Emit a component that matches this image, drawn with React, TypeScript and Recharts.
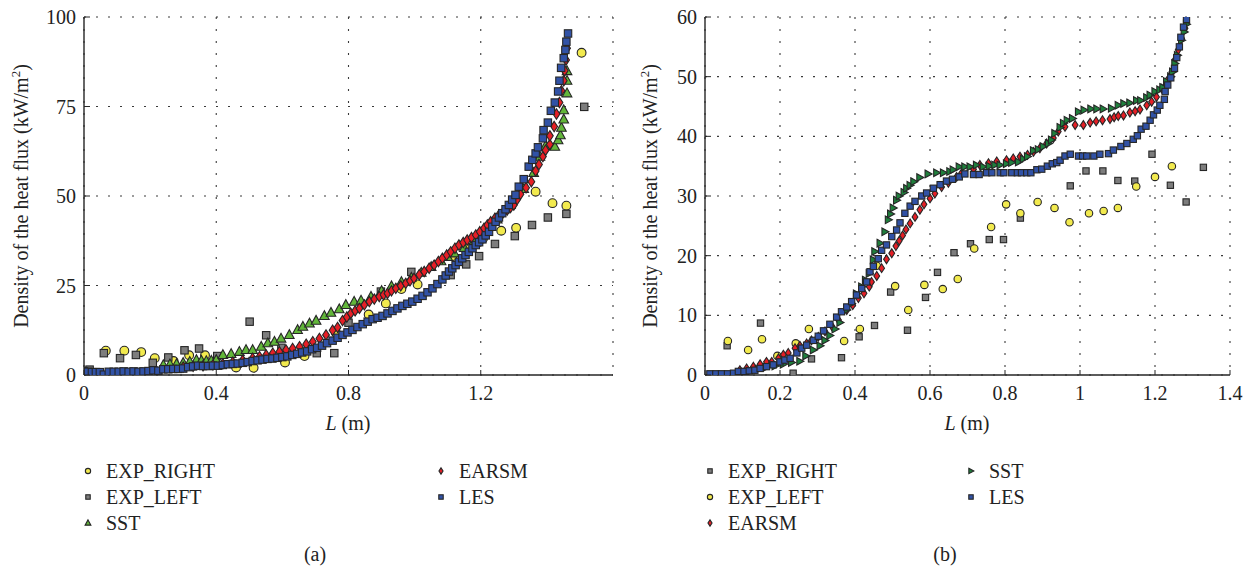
import React from "react";
import { CartesianGrid, Scatter, ScatterChart, XAxis, YAxis } from "recharts";

type Pt = [number, number];

// ---- panel (a) ----
const ticksXA = [0, 0.4, 0.8, 1.2];
const ticksYA = [0, 25, 50, 75, 100];

const aExpRight: Pt[] = [
  [0.005, 1.0], [0.066, 6.8], [0.122, 6.8], [0.173, 6.4], [0.214, 4.7], [0.271, 3.9],
  [0.318, 5.5], [0.366, 5.5], [0.46, 2.1], [0.513, 2.0], [0.608, 3.5], [0.667, 5.3],
  [0.762, 11.8], [0.861, 16.9], [0.913, 20.0], [0.96, 24.0], [1.009, 25.3], [1.114, 33.2],
  [1.159, 35.6], [1.207, 38.1], [1.262, 40.3], [1.307, 41.1], [1.366, 51.2], [1.417, 48.0],
  [1.459, 47.3], [1.505, 90.0],
];

const aExpLeft: Pt[] = [
  [0.017, 1.5], [0.06, 6.1], [0.109, 4.7], [0.157, 5.6], [0.208, 3.4], [0.255, 4.9],
  [0.304, 6.9], [0.348, 7.4], [0.403, 5.3], [0.501, 14.9], [0.551, 11.1], [0.597, 7.6],
  [0.704, 6.1], [0.757, 6.1], [0.8, 14.6], [0.898, 23.3], [0.99, 28.8], [1.109, 27.9],
  [1.156, 30.9], [1.195, 33.2], [1.243, 36.6], [1.303, 38.8], [1.355, 41.9], [1.403, 44.0],
  [1.459, 45.0], [1.513, 74.9],
];

const aSst: Pt[] = [
  [0.24, 2.8], [0.26, 3.0], [0.28, 3.1], [0.3, 3.4], [0.32, 3.7], [0.34, 4.2], [0.355, 4.0],
  [0.37, 3.9], [0.385, 4.0], [0.4, 4.2], [0.42, 5.6], [0.445, 5.9], [0.47, 6.5], [0.49, 7.0],
  [0.51, 7.0], [0.536, 7.9], [0.556, 8.9], [0.576, 9.3], [0.596, 10.2], [0.621, 11.2],
  [0.646, 12.6], [0.662, 13.5], [0.682, 14.4], [0.702, 15.2], [0.727, 16.5], [0.747, 17.4],
  [0.772, 18.4], [0.792, 19.6], [0.817, 20.5], [0.838, 20.8], [0.868, 21.9], [0.9, 23.5],
  [0.93, 24.8], [0.96, 26.0], [0.99, 27.2], [1.02, 28.6], [1.05, 30.2], [1.08, 31.8],
  [1.1, 33.0], [1.12, 34.0], [1.15, 35.5], [1.18, 37.5], [1.21, 40.0], [1.25, 43.5],
  [1.29, 47.5], [1.33, 52.0], [1.36, 56.5], [1.379, 61.0], [1.396, 64.0], [1.424, 63.8],
  [1.434, 65.6], [1.441, 67.0], [1.444, 69.1], [1.451, 71.4], [1.451, 74.0], [1.461, 78.7],
  [1.461, 82.2], [1.461, 84.9],
];

const aEarsm: Pt[] = [
  [0.3, 2.2], [0.33, 2.4], [0.36, 2.6], [0.39, 2.8], [0.42, 3.1], [0.45, 3.6], [0.48, 4.1],
  [0.51, 4.7], [0.531, 5.1], [0.551, 5.6], [0.571, 6.1], [0.591, 6.5], [0.611, 7.0],
  [0.631, 7.4], [0.652, 7.9], [0.672, 8.6], [0.692, 9.3], [0.712, 10.2], [0.732, 11.2],
  [0.752, 12.5], [0.767, 13.3], [0.782, 15.2], [0.795, 16.2], [0.807, 17.2], [0.82, 17.9],
  [0.833, 18.6], [0.848, 19.6], [0.863, 20.5], [0.878, 21.2], [0.893, 21.9], [0.906, 22.4],
  [0.918, 22.8], [0.93, 23.5], [0.943, 24.2], [0.958, 24.9], [0.973, 25.6], [0.986, 26.3],
  [0.998, 27.0], [1.014, 28.0], [1.029, 28.9], [1.044, 29.8], [1.059, 30.7], [1.072, 31.7],
  [1.084, 32.6], [1.097, 33.5], [1.109, 34.4], [1.122, 35.4], [1.134, 36.3], [1.147, 37.0],
  [1.159, 37.7], [1.172, 38.4], [1.185, 39.1], [1.197, 40.0], [1.21, 41.0], [1.22, 41.9],
  [1.23, 42.8], [1.243, 43.8], [1.255, 44.7], [1.268, 45.4], [1.28, 46.1], [1.29, 46.8],
  [1.3, 47.5], [1.31, 49.0], [1.32, 50.5], [1.337, 52.3], [1.353, 54.0], [1.366, 57.0],
  [1.376, 58.8], [1.388, 61.0], [1.396, 62.8], [1.409, 64.4], [1.409, 66.8], [1.422, 69.4],
  [1.429, 72.9], [1.438, 76.1], [1.444, 79.4], [1.451, 82.2], [1.454, 85.0], [1.458, 88.0],
  [1.461, 91.3],
];

const aLes: Pt[] = [
  [0.0, 1.0], [0.012, 0.9], [0.024, 0.8], [0.036, 0.8], [0.048, 0.8], [0.06, 0.1],
  [0.075, 0.9], [0.09, 0.9], [0.105, 0.9], [0.12, 1.0], [0.135, 0.9], [0.15, 1.0],
  [0.165, 0.9], [0.18, 1.0], [0.195, 1.1], [0.21, 1.3], [0.225, 1.2], [0.24, 1.6],
  [0.255, 1.6], [0.27, 1.7], [0.285, 1.7], [0.3, 1.8], [0.315, 2.2], [0.33, 2.4],
  [0.345, 2.6], [0.36, 2.5], [0.375, 2.5], [0.39, 2.6], [0.405, 2.6], [0.42, 2.8],
  [0.435, 3.0], [0.45, 3.1], [0.465, 3.2], [0.48, 3.4], [0.495, 3.6], [0.51, 3.9],
  [0.525, 4.1], [0.54, 4.3], [0.555, 4.5], [0.57, 4.6], [0.585, 4.8], [0.6, 5.0],
  [0.615, 5.2], [0.63, 5.6], [0.645, 5.9], [0.66, 6.3], [0.675, 6.6], [0.69, 7.2],
  [0.705, 7.6], [0.72, 8.2], [0.735, 8.9], [0.752, 9.6], [0.767, 10.4], [0.782, 11.2],
  [0.797, 11.9], [0.812, 12.6], [0.827, 13.4], [0.843, 14.2], [0.858, 14.9], [0.873, 15.6],
  [0.888, 16.0], [0.903, 16.5], [0.918, 17.2], [0.933, 17.9], [0.948, 18.6], [0.963, 19.3],
  [0.978, 19.9], [0.993, 20.5], [1.009, 21.3], [1.024, 22.1], [1.039, 23.1], [1.054, 24.2],
  [1.069, 25.4], [1.084, 26.7], [1.094, 27.8], [1.104, 28.9], [1.114, 29.8], [1.124, 30.7],
  [1.134, 31.6], [1.144, 32.6], [1.154, 33.5], [1.164, 34.4], [1.175, 35.4], [1.185, 36.3],
  [1.195, 37.1], [1.205, 37.9], [1.215, 39.0], [1.225, 40.0], [1.235, 41.4], [1.245, 42.8],
  [1.255, 44.0], [1.265, 45.2], [1.275, 46.3], [1.285, 47.5], [1.295, 49.0], [1.305, 50.3],
  [1.315, 52.6], [1.33, 54.7], [1.345, 58.2], [1.356, 60.1], [1.366, 61.9], [1.373, 63.6],
  [1.388, 66.1], [1.39, 68.4], [1.403, 70.5], [1.412, 73.8], [1.424, 76.1], [1.434, 79.2],
  [1.438, 82.2], [1.443, 85.8], [1.451, 88.5], [1.456, 90.8], [1.459, 93.1], [1.464, 95.4],
];

// ---- panel (b) ----
const ticksXB = [0, 0.2, 0.4, 0.6, 0.8, 1, 1.2, 1.4];
const ticksYB = [0, 10, 20, 30, 40, 50, 60];

const bExpRight: Pt[] = [
  [0.059, 4.9], [0.148, 8.7], [0.235, 0.3], [0.284, 2.7], [0.364, 2.9], [0.411, 6.4],
  [0.452, 8.3], [0.495, 13.9], [0.54, 7.5], [0.588, 13.0], [0.62, 17.2], [0.664, 20.5],
  [0.708, 22.0], [0.758, 22.7], [0.796, 22.7], [0.841, 26.3], [0.974, 31.7], [1.016, 34.2],
  [1.061, 34.2], [1.101, 32.6], [1.146, 32.5], [1.192, 37.0], [1.241, 31.8], [1.283, 29.0],
  [1.329, 34.8],
];

const bExpLeft: Pt[] = [
  [0.061, 5.7], [0.115, 4.2], [0.152, 6.0], [0.193, 3.2], [0.242, 5.3], [0.277, 7.7],
  [0.371, 5.7], [0.413, 7.7], [0.458, 18.3], [0.507, 14.9], [0.542, 10.9], [0.585, 15.1],
  [0.634, 14.4], [0.674, 16.1], [0.718, 21.2], [0.763, 24.8], [0.803, 28.6], [0.841, 27.1],
  [0.887, 29.0], [0.932, 28.0], [0.972, 25.6], [1.024, 27.1], [1.063, 27.5], [1.101, 28.0],
  [1.15, 31.6], [1.2, 33.2], [1.245, 35.0],
];

const bEarsm: Pt[] = [
  [0.093, 0.8], [0.111, 1.1], [0.129, 1.4], [0.147, 1.8], [0.164, 2.2], [0.178, 2.2],
  [0.196, 2.8], [0.209, 3.4], [0.222, 3.7], [0.24, 4.5], [0.253, 4.9], [0.271, 5.3],
  [0.284, 5.8], [0.302, 6.4], [0.32, 7.3], [0.338, 8.2], [0.356, 9.2], [0.378, 10.9],
  [0.394, 11.7], [0.409, 12.9], [0.424, 13.7], [0.438, 14.8], [0.444, 15.6], [0.458, 16.6],
  [0.471, 17.9], [0.484, 19.4], [0.498, 20.4], [0.509, 21.6], [0.518, 22.5], [0.527, 23.4],
  [0.536, 24.4], [0.547, 25.4], [0.56, 26.5], [0.573, 27.7], [0.584, 28.6], [0.6, 29.6],
  [0.613, 30.4], [0.631, 31.5], [0.649, 32.2], [0.671, 33.2], [0.684, 33.8], [0.716, 34.5],
  [0.733, 35.2], [0.756, 35.5], [0.778, 35.8], [0.804, 36.0], [0.822, 36.3], [0.84, 36.6],
  [0.86, 36.9], [0.876, 37.4], [0.893, 38.0], [0.911, 38.8], [0.929, 39.7], [0.942, 40.8],
  [0.96, 41.6], [0.987, 41.9], [1.009, 41.9], [1.027, 42.3], [1.043, 42.5], [1.06, 42.7],
  [1.08, 42.9], [1.091, 43.2], [1.102, 43.4], [1.116, 43.5], [1.133, 44.0], [1.147, 44.2],
  [1.16, 44.5], [1.178, 45.2], [1.191, 45.8], [1.204, 46.6], [1.218, 48.0], [1.231, 49.2],
  [1.245, 50.8], [1.253, 52.8], [1.262, 54.5], [1.271, 56.4], [1.28, 58.1],
];

const bSst: Pt[] = [
  [0.098, 0.2], [0.12, 0.6], [0.142, 1.0], [0.164, 1.3], [0.187, 1.5], [0.209, 1.8],
  [0.231, 2.1], [0.253, 2.3], [0.269, 3.2], [0.289, 4.2], [0.307, 4.9], [0.32, 5.8],
  [0.333, 6.6], [0.347, 7.7], [0.36, 8.8], [0.378, 10.9], [0.391, 12.0], [0.404, 13.6],
  [0.418, 14.8], [0.428, 15.9], [0.438, 17.0], [0.449, 19.3], [0.453, 20.7], [0.467, 22.1],
  [0.48, 24.0], [0.489, 26.0], [0.495, 27.0], [0.502, 28.0], [0.511, 29.3], [0.518, 30.0],
  [0.531, 30.6], [0.538, 31.3], [0.547, 31.8], [0.557, 32.4], [0.573, 33.1], [0.595, 33.7],
  [0.618, 33.9], [0.636, 33.9], [0.653, 34.1], [0.662, 34.4], [0.678, 34.9], [0.693, 34.9],
  [0.707, 34.9], [0.724, 35.2], [0.742, 34.9], [0.758, 35.0], [0.773, 35.2], [0.787, 35.2],
  [0.804, 35.4], [0.818, 35.6], [0.836, 35.7], [0.849, 36.2], [0.86, 36.6], [0.876, 37.6],
  [0.889, 37.8], [0.902, 38.3], [0.916, 38.8], [0.924, 39.4], [0.933, 40.5], [0.947, 41.5],
  [0.956, 42.2], [0.966, 42.7], [0.98, 43.0], [0.996, 44.1], [1.011, 44.4], [1.029, 44.6],
  [1.045, 44.6], [1.062, 44.6], [1.084, 44.7], [1.102, 45.2], [1.117, 45.5], [1.133, 45.6],
  [1.151, 46.0], [1.162, 46.0], [1.178, 46.5], [1.187, 46.9], [1.2, 47.5], [1.213, 47.8],
  [1.221, 48.2], [1.231, 49.2], [1.242, 50.0], [1.247, 50.8], [1.253, 52.2], [1.26, 53.6],
  [1.271, 56.1], [1.278, 57.5], [1.284, 58.8],
];

const bLes: Pt[] = [
  [0.013, 0.2], [0.029, 0.2], [0.044, 0.2], [0.06, 0.2], [0.076, 0.3], [0.089, 0.6],
  [0.104, 0.6], [0.118, 0.7], [0.133, 0.8], [0.147, 1.1], [0.164, 1.4], [0.182, 1.7],
  [0.2, 2.2], [0.213, 2.5], [0.227, 2.8], [0.245, 3.7], [0.258, 4.5], [0.271, 5.0],
  [0.289, 5.8], [0.302, 6.5], [0.316, 7.4], [0.333, 8.5], [0.351, 9.7], [0.364, 10.6],
  [0.378, 11.4], [0.391, 12.3], [0.404, 13.4], [0.418, 14.5], [0.431, 15.6], [0.44, 17.3],
  [0.449, 18.2], [0.462, 19.5], [0.471, 20.9], [0.484, 21.8], [0.498, 23.2], [0.511, 24.3],
  [0.52, 25.5], [0.533, 27.1], [0.547, 28.3], [0.56, 29.1], [0.578, 30.0], [0.591, 30.5],
  [0.609, 31.3], [0.627, 31.9], [0.644, 32.5], [0.66, 32.8], [0.678, 33.2], [0.693, 33.7],
  [0.716, 33.6], [0.731, 33.6], [0.751, 33.9], [0.765, 33.9], [0.787, 33.9], [0.797, 33.9],
  [0.818, 33.9], [0.833, 33.9], [0.844, 33.9], [0.858, 33.9], [0.869, 33.9], [0.885, 34.4],
  [0.898, 34.5], [0.913, 35.0], [0.926, 35.4], [0.938, 35.6], [0.947, 36.0], [0.96, 36.7],
  [0.974, 37.0], [0.996, 36.7], [1.007, 36.7], [1.018, 36.7], [1.037, 36.7], [1.053, 37.0],
  [1.076, 37.1], [1.089, 37.7], [1.109, 38.3], [1.125, 38.8], [1.142, 39.5], [1.153, 40.1],
  [1.163, 41.2], [1.176, 41.7], [1.187, 42.7], [1.196, 43.6], [1.206, 44.4], [1.213, 45.2],
  [1.225, 46.2], [1.227, 47.5], [1.234, 48.6], [1.242, 49.8], [1.252, 51.4], [1.258, 53.2],
  [1.265, 55.0], [1.269, 56.6], [1.276, 58.3], [1.284, 59.6],
];

const FONT = "Liberation Serif, serif";
const INK = "#262626";

type Kind = "circle" | "square" | "triangle" | "diamond" | "tright";

const YELLOW = "#f2ea4e";
const GRAY = "#7d7d7d";
const GREEN = "#62b63a";
const DARKGREEN = "#1f7f3c";
const RED = "#e61f26";
const BLUE = "#3152a6";

interface SeriesDef {
  name: string;
  data: Pt[];
  kind: Kind;
  fill: string;
}

const seriesA: SeriesDef[] = [
  { name: "EXP_RIGHT", data: aExpRight, kind: "circle", fill: YELLOW },
  { name: "EXP_LEFT", data: aExpLeft, kind: "square", fill: GRAY },
  { name: "SST", data: aSst, kind: "triangle", fill: GREEN },
  { name: "EARSM", data: aEarsm, kind: "diamond", fill: RED },
  { name: "LES", data: aLes, kind: "square", fill: BLUE },
];

const seriesB: SeriesDef[] = [
  { name: "EXP_RIGHT", data: bExpRight, kind: "square", fill: GRAY },
  { name: "EXP_LEFT", data: bExpLeft, kind: "circle", fill: YELLOW },
  { name: "EARSM", data: bEarsm, kind: "diamond", fill: RED },
  { name: "SST", data: bSst, kind: "tright", fill: DARKGREEN },
  { name: "LES", data: bLes, kind: "square", fill: BLUE },
];

const toRows = (pts: Pt[]) => pts.map(([x, y]) => ({ x, y }));

function Marker({ kind, cx, cy, fill, s }: { kind: Kind; cx: number; cy: number; fill: string; s: number }) {
  const common = { fill, stroke: INK, strokeWidth: 1.1 };
  if (kind === "circle") return <circle cx={cx} cy={cy} r={4.4 * s} {...common} />;
  if (kind === "square") {
    const h = 3.7 * s;
    return <rect x={cx - h} y={cy - h} width={2 * h} height={2 * h} {...common} />;
  }
  if (kind === "triangle") {
    const w = 4.8 * s;
    return <polygon points={`${cx},${cy - 5.2 * s} ${cx - w},${cy + 3.6 * s} ${cx + w},${cy + 3.6 * s}`} {...common} />;
  }
  if (kind === "diamond") {
    return (
      <polygon
        points={`${cx},${cy - 5.2 * s} ${cx + 3.4 * s},${cy} ${cx},${cy + 5.2 * s} ${cx - 3.4 * s},${cy}`}
        {...common}
      />
    );
  }
  return (
    <polygon
      points={`${cx - 3.6 * s},${cy - 4.5 * s} ${cx + 4.7 * s},${cy} ${cx - 3.6 * s},${cy + 4.5 * s}`}
      {...common}
    />
  );
}

const XTick = (props: any) => {
  const { x, y, payload } = props;
  return (
    <g>
      <line x1={x} x2={x} y1={y} y2={y - 5} stroke={INK} strokeWidth={1} />
      <text x={x} y={y + 25} textAnchor="middle" style={{ fontFamily: FONT }} fontSize={20} fill="#222">
        {String(payload.value)}
      </text>
    </g>
  );
};

const YTick = (props: any) => {
  const { x, y, payload } = props;
  return (
    <g>
      <line x1={x} x2={x + 6} y1={y} y2={y} stroke={INK} strokeWidth={1} />
      <text x={x - 8} y={y + 7} textAnchor="end" style={{ fontFamily: FONT }} fontSize={20} fill="#222">
        {String(payload.value)}
      </text>
    </g>
  );
};

function Titles({ yTitleX, xTitleX }: { yTitleX: number; xTitleX: number }) {
  return (
    <svg width={630} height={440} style={{ position: "absolute", left: 0, top: 0, pointerEvents: "none" }}>
      <text
        transform={`translate(${yTitleX},196) rotate(-90)`}
        textAnchor="middle"
        style={{ fontFamily: FONT }}
        fontSize={20}
        fill="#222"
      >
        Density of the heat flux (kW/m
        <tspan fontSize={13} dy={-8}>2</tspan>
        <tspan dy={8}>)</tspan>
      </text>
      <text x={xTitleX} y={430} textAnchor="middle" style={{ fontFamily: FONT }} fontSize={20} fill="#222">
        <tspan fontStyle="italic">L</tspan> (m)
      </text>
    </svg>
  );
}

function LegendMark({ kind, fill }: { kind: Kind; fill: string }) {
  return (
    <svg width={12} height={12} style={{ position: "absolute", left: -6, top: 6 }}>
      <Marker kind={kind} cx={6} cy={6} fill={fill} s={0.6} />
    </svg>
  );
}

function LegendBlock({ items }: { items: { def: SeriesDef; x: number; y: number }[] }) {
  return (
    <>
      {items.map(({ def, x, y }) => (
        <div
          key={def.name + x}
          style={{
            position: "absolute",
            left: x,
            top: y - 12,
            height: 24,
            lineHeight: "24px",
            fontFamily: FONT,
            fontSize: 20,
            color: "#222",
            whiteSpace: "nowrap",
          }}
        >
          <LegendMark kind={def.kind} fill={def.fill} />
          <span style={{ position: "absolute", left: 18 }}>{def.name}</span>
        </div>
      ))}
    </>
  );
}

function Panel({
  series,
  ticksX,
  ticksY,
  xMax,
  yMax,
  width,
  marginLeft,
  marginRight,
  s,
}: {
  series: SeriesDef[];
  ticksX: number[];
  ticksY: number[];
  xMax: number;
  yMax: number;
  width: number;
  marginLeft: number;
  marginRight: number;
  s: number;
}) {
  return (
    <ScatterChart width={width} height={440} margin={{ top: 17, right: marginRight, bottom: 0, left: marginLeft }}>
      <CartesianGrid stroke="#3a3a3a" strokeWidth={1.1} strokeDasharray="2 10" />
      <XAxis
        type="number"
        dataKey="x"
        domain={[0, xMax]}
        ticks={ticksX}
        interval={0}
        height={65}
        tickSize={0}
        tickMargin={0}
        axisLine={{ stroke: INK, strokeWidth: 1.4 }}
        tick={<XTick />}
        allowDataOverflow
      />
      <YAxis
        type="number"
        dataKey="y"
        domain={[0, yMax]}
        ticks={ticksY}
        interval={0}
        width={60}
        tickSize={0}
        tickMargin={0}
        axisLine={{ stroke: INK, strokeWidth: 1.4 }}
        tick={<YTick />}
        allowDataOverflow
      />
      {series.map((d) => (
        <Scatter
          key={d.name}
          name={d.name}
          data={toRows(d.data)}
          isAnimationActive={false}
          shape={(p: any) => <Marker kind={d.kind} cx={p.cx} cy={p.cy} fill={d.fill} s={s} />}
        />
      ))}
    </ScatterChart>
  );
}

export default function App() {
  return (
    <div style={{ position: "absolute", left: 0, top: 0, width: 1250, height: 573, background: "#fff" }}>
      <div style={{ position: "absolute", left: 0, top: 0 }}>
        <Panel
          series={seriesA}
          ticksX={ticksXA}
          ticksY={ticksYA}
          xMax={1.6}
          yMax={100}
          width={620}
          marginLeft={24}
          marginRight={7}
          s={1}
        />
        <Titles yTitleX={28} xTitleX={348} />
      </div>
      <div style={{ position: "absolute", left: 620, top: 0 }}>
        <Panel
          series={seriesB}
          ticksX={ticksXB}
          ticksY={ticksYB}
          xMax={1.4}
          yMax={60}
          width={630}
          marginLeft={25}
          marginRight={20}
          s={0.85}
        />
        <Titles yTitleX={37} xTitleX={347} />
      </div>
      <LegendBlock
        items={[
          { def: seriesA[0], x: 88, y: 471 },
          { def: seriesA[1], x: 88, y: 497 },
          { def: seriesA[2], x: 88, y: 523 },
          { def: seriesA[3], x: 441, y: 471 },
          { def: seriesA[4], x: 441, y: 497 },
          { def: seriesB[0], x: 710, y: 471 },
          { def: seriesB[1], x: 710, y: 497 },
          { def: seriesB[2], x: 710, y: 523 },
          { def: seriesB[3], x: 971, y: 471 },
          { def: seriesB[4], x: 971, y: 497 },
        ]}
      />
      <div style={{ position: "absolute", left: 295, top: 543, width: 40, textAlign: "center", fontFamily: FONT, fontSize: 20, color: "#222" }}>
        (a)
      </div>
      <div style={{ position: "absolute", left: 925, top: 543, width: 40, textAlign: "center", fontFamily: FONT, fontSize: 20, color: "#222" }}>
        (b)
      </div>
    </div>
  );
}
